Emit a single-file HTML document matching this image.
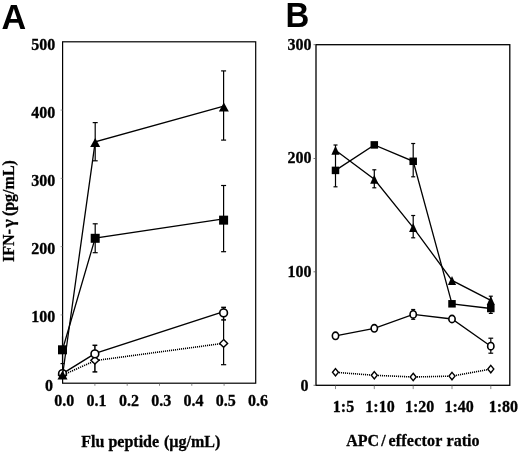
<!DOCTYPE html>
<html><head><meta charset="utf-8"><title>Figure</title>
<style>
html,body{margin:0;padding:0;background:#fff;}
body{width:520px;height:452px;overflow:hidden;font-family:"Liberation Serif",serif;}
svg{display:block;will-change:transform;opacity:0.999;}
</style></head>
<body>
<svg width="520" height="452" viewBox="0 0 520 452">
<rect x="0" y="0" width="520" height="452" fill="#fff"/>
<rect x="62.6" y="41.8" width="193.1" height="341.4" fill="none" stroke="#000" stroke-width="1.2"/>
<line x1="94.90" y1="383.2" x2="94.90" y2="385.8" stroke="#555" stroke-width="0.7"/>
<line x1="127.20" y1="383.2" x2="127.20" y2="385.8" stroke="#555" stroke-width="0.7"/>
<line x1="159.50" y1="383.2" x2="159.50" y2="385.8" stroke="#555" stroke-width="0.7"/>
<line x1="191.80" y1="383.2" x2="191.80" y2="385.8" stroke="#555" stroke-width="0.7"/>
<line x1="224.10" y1="383.2" x2="224.10" y2="385.8" stroke="#555" stroke-width="0.7"/>
<line x1="60.6" y1="314.92" x2="62.6" y2="314.92" stroke="#777" stroke-width="0.7"/>
<line x1="60.6" y1="246.64" x2="62.6" y2="246.64" stroke="#777" stroke-width="0.7"/>
<line x1="60.6" y1="178.36" x2="62.6" y2="178.36" stroke="#777" stroke-width="0.7"/>
<line x1="60.6" y1="110.08" x2="62.6" y2="110.08" stroke="#777" stroke-width="0.7"/>
<text x="55.2" y="49.5" font-family="'Liberation Serif', serif" font-weight="bold" font-size="16" text-anchor="end" stroke="#000" stroke-width="0.3">500</text>
<text x="55.2" y="117.7" font-family="'Liberation Serif', serif" font-weight="bold" font-size="16" text-anchor="end" stroke="#000" stroke-width="0.3">400</text>
<text x="55.2" y="185.9" font-family="'Liberation Serif', serif" font-weight="bold" font-size="16" text-anchor="end" stroke="#000" stroke-width="0.3">300</text>
<text x="55.2" y="254.1" font-family="'Liberation Serif', serif" font-weight="bold" font-size="16" text-anchor="end" stroke="#000" stroke-width="0.3">200</text>
<text x="55.2" y="322.3" font-family="'Liberation Serif', serif" font-weight="bold" font-size="16" text-anchor="end" stroke="#000" stroke-width="0.3">100</text>
<text x="52.9" y="390.5" font-family="'Liberation Serif', serif" font-weight="bold" font-size="16" text-anchor="end" stroke="#000" stroke-width="0.3">0</text>
<text x="54.3" y="406.1" font-family="'Liberation Serif', serif" font-weight="bold" font-size="16" text-anchor="start" stroke="#000" stroke-width="0.3">0.0</text>
<text x="86.6" y="406.1" font-family="'Liberation Serif', serif" font-weight="bold" font-size="16" text-anchor="start" stroke="#000" stroke-width="0.3">0.1</text>
<text x="118.9" y="406.1" font-family="'Liberation Serif', serif" font-weight="bold" font-size="16" text-anchor="start" stroke="#000" stroke-width="0.3">0.2</text>
<text x="151.2" y="406.1" font-family="'Liberation Serif', serif" font-weight="bold" font-size="16" text-anchor="start" stroke="#000" stroke-width="0.3">0.3</text>
<text x="183.5" y="406.1" font-family="'Liberation Serif', serif" font-weight="bold" font-size="16" text-anchor="start" stroke="#000" stroke-width="0.3">0.4</text>
<text x="215.8" y="406.1" font-family="'Liberation Serif', serif" font-weight="bold" font-size="16" text-anchor="start" stroke="#000" stroke-width="0.3">0.5</text>
<text x="248.1" y="406.1" font-family="'Liberation Serif', serif" font-weight="bold" font-size="16" text-anchor="start" stroke="#000" stroke-width="0.3">0.6</text>
<text x="81.3" y="446.5" font-family="'Liberation Serif', serif" font-weight="bold" font-size="16" text-anchor="start" stroke="#000" stroke-width="0.3">Flu peptide <tspan dx="0.8">(µg/mL)</tspan></text>
<g transform="translate(14.4,262.0) rotate(-90)"><text x="0" y="0" font-family="'Liberation Serif', serif" font-weight="bold" font-size="16" text-anchor="start" stroke="#000" stroke-width="0.3">IFN-</text><text x="0" y="0" font-family="'Liberation Serif', serif" font-weight="bold" font-size="16" text-anchor="start" stroke="#000" stroke-width="0.3" transform="translate(34.6,0) scale(1.1,1)">γ</text><text x="45.9" y="0" font-family="'Liberation Serif', serif" font-weight="bold" font-size="16" text-anchor="start" stroke="#000" stroke-width="0.3" xml:space="preserve">(pg/mL)</text></g>
<text x="1.5" y="28.6" font-family="'Liberation Sans', serif" font-weight="bold" font-size="34.2" text-anchor="start" stroke="#000" stroke-width="0">A</text>
<line x1="95.20" y1="122.60" x2="95.20" y2="160.80" stroke="#000" stroke-width="1.2"/><line x1="92.70" y1="122.60" x2="97.70" y2="122.60" stroke="#000" stroke-width="1.2"/><line x1="92.70" y1="160.80" x2="97.70" y2="160.80" stroke="#000" stroke-width="1.2"/>
<line x1="223.60" y1="70.90" x2="223.60" y2="140.10" stroke="#000" stroke-width="1.2"/><line x1="221.10" y1="70.90" x2="226.10" y2="70.90" stroke="#000" stroke-width="1.2"/><line x1="221.10" y1="140.10" x2="226.10" y2="140.10" stroke="#000" stroke-width="1.2"/>
<line x1="95.20" y1="223.80" x2="95.20" y2="252.70" stroke="#000" stroke-width="1.2"/><line x1="92.70" y1="223.80" x2="97.70" y2="223.80" stroke="#000" stroke-width="1.2"/><line x1="92.70" y1="252.70" x2="97.70" y2="252.70" stroke="#000" stroke-width="1.2"/>
<line x1="223.60" y1="185.50" x2="223.60" y2="251.70" stroke="#000" stroke-width="1.2"/><line x1="221.10" y1="185.50" x2="226.10" y2="185.50" stroke="#000" stroke-width="1.2"/><line x1="221.10" y1="251.70" x2="226.10" y2="251.70" stroke="#000" stroke-width="1.2"/>
<line x1="62.50" y1="336.40" x2="62.50" y2="363.60" stroke="#000" stroke-width="1.2"/><line x1="60.50" y1="363.60" x2="64.50" y2="363.60" stroke="#000" stroke-width="1.2"/>
<line x1="94.90" y1="345.30" x2="94.90" y2="371.90" stroke="#000" stroke-width="1.5"/><line x1="92.50" y1="345.30" x2="97.30" y2="345.30" stroke="#000" stroke-width="1.5"/><line x1="92.50" y1="371.90" x2="97.30" y2="371.90" stroke="#000" stroke-width="1.5"/>
<line x1="223.60" y1="307.40" x2="223.60" y2="319.90" stroke="#000" stroke-width="1.5"/><line x1="221.20" y1="307.40" x2="226.00" y2="307.40" stroke="#000" stroke-width="1.5"/><line x1="221.20" y1="319.90" x2="226.00" y2="319.90" stroke="#000" stroke-width="1.5"/>
<line x1="223.60" y1="319.90" x2="223.60" y2="364.70" stroke="#000" stroke-width="1.2"/><line x1="221.00" y1="364.70" x2="226.20" y2="364.70" stroke="#000" stroke-width="1.2"/>
<line x1="62.50" y1="375.20" x2="95.20" y2="360.60" stroke="#000" stroke-width="1.6" stroke-dasharray="1.205 0.986" stroke-dashoffset="0.548"/><line x1="95.20" y1="360.60" x2="223.60" y2="343.30" stroke="#000" stroke-width="1.6" stroke-dasharray="1.110 0.908" stroke-dashoffset="0.202"/>
<polyline points="62.50,373.60 95.20,353.40 223.60,311.60" fill="none" stroke="#000" stroke-width="1.5"/>
<polygon points="62.50,371.20 66.50,375.00 62.50,378.80 58.50,375.00" fill="#fff" stroke="#000" stroke-width="1.4" stroke-linejoin="miter"/>
<polygon points="94.90,356.50 98.90,360.30 94.90,364.10 90.90,360.30" fill="#fff" stroke="#000" stroke-width="1.4" stroke-linejoin="miter"/>
<polygon points="223.60,339.60 227.60,343.40 223.60,347.20 219.60,343.40" fill="#fff" stroke="#000" stroke-width="1.4" stroke-linejoin="miter"/>
<ellipse cx="62.50" cy="373.60" rx="3.85" ry="3.85" fill="#fff" stroke="#000" stroke-width="1.6"/>
<ellipse cx="94.90" cy="353.90" rx="3.85" ry="3.85" fill="#fff" stroke="#000" stroke-width="1.6"/>
<ellipse cx="223.60" cy="312.90" rx="3.85" ry="3.85" fill="#fff" stroke="#000" stroke-width="1.6"/>
<polyline points="62.50,375.50 95.20,141.80 223.80,106.20" fill="none" stroke="#000" stroke-width="1.3"/>
<polyline points="62.50,349.80 95.20,238.00 223.60,218.80" fill="none" stroke="#000" stroke-width="1.3"/>
<polygon points="62.50,370.50 67.50,379.50 57.50,379.50" fill="#000"/>
<polygon points="95.20,137.90 100.20,146.90 90.20,146.90" fill="#000"/>
<polygon points="223.85,102.50 228.85,111.50 218.85,111.50" fill="#000"/>
<rect x="58.00" y="345.30" width="9.0" height="9.0" fill="#000"/>
<rect x="90.70" y="233.80" width="9.0" height="9.0" fill="#000"/>
<rect x="219.10" y="215.65" width="9.0" height="9.0" fill="#000"/>
<rect x="316.0" y="44.7" width="193.8" height="340.6" fill="none" stroke="#000" stroke-width="1.3"/>
<line x1="335.5" y1="385.3" x2="335.5" y2="389.1" stroke="#555" stroke-width="0.7"/>
<line x1="374.3" y1="385.3" x2="374.3" y2="389.1" stroke="#555" stroke-width="0.7"/>
<line x1="413.2" y1="385.3" x2="413.2" y2="389.1" stroke="#555" stroke-width="0.7"/>
<line x1="452.0" y1="385.3" x2="452.0" y2="389.1" stroke="#555" stroke-width="0.7"/>
<line x1="490.8" y1="385.3" x2="490.8" y2="389.1" stroke="#555" stroke-width="0.7"/>
<line x1="313.5" y1="158.5" x2="316.0" y2="158.5" stroke="#555" stroke-width="0.8"/>
<line x1="313.5" y1="271.8" x2="316.0" y2="271.8" stroke="#555" stroke-width="0.8"/>
<line x1="313.5" y1="385.3" x2="316.0" y2="385.3" stroke="#555" stroke-width="0.8"/>
<line x1="313.5" y1="44.7" x2="316.0" y2="44.7" stroke="#555" stroke-width="0.8"/>
<text x="311.6" y="49.7" font-family="'Liberation Serif', serif" font-weight="bold" font-size="16" text-anchor="end" stroke="#000" stroke-width="0.3">300</text>
<text x="311.6" y="163.35" font-family="'Liberation Serif', serif" font-weight="bold" font-size="16" text-anchor="end" stroke="#000" stroke-width="0.3">200</text>
<text x="311.6" y="277.0" font-family="'Liberation Serif', serif" font-weight="bold" font-size="16" text-anchor="end" stroke="#000" stroke-width="0.3">100</text>
<text x="308.4" y="390.65" font-family="'Liberation Serif', serif" font-weight="bold" font-size="16" text-anchor="end" stroke="#000" stroke-width="0.3">0</text>
<text x="332.8" y="412.2" font-family="'Liberation Serif', serif" font-weight="bold" font-size="16" text-anchor="start" stroke="#000" stroke-width="0.3">1:5</text>
<text x="365.3" y="412.2" font-family="'Liberation Serif', serif" font-weight="bold" font-size="16" text-anchor="start" stroke="#000" stroke-width="0.3">1:10</text>
<text x="404.9" y="412.2" font-family="'Liberation Serif', serif" font-weight="bold" font-size="16" text-anchor="start" stroke="#000" stroke-width="0.3">1:20</text>
<text x="444.5" y="412.2" font-family="'Liberation Serif', serif" font-weight="bold" font-size="16" text-anchor="start" stroke="#000" stroke-width="0.3">1:40</text>
<text x="488.7" y="412.2" font-family="'Liberation Serif', serif" font-weight="bold" font-size="16" text-anchor="start" stroke="#000" stroke-width="0.3">1:80</text>
<text x="346.2" y="446.4" font-family="'Liberation Serif', serif" font-weight="bold" font-size="16" text-anchor="start" stroke="#000" stroke-width="0.3">APC<tspan dx="2.2">/</tspan><tspan dx="2.7" letter-spacing="0.22">effector</tspan><tspan dx="4.0">ratio</tspan></text>
<text x="0" y="0" font-family="'Liberation Sans', serif" font-weight="bold" font-size="34.5" text-anchor="start" stroke="#000" stroke-width="0" transform="translate(285.6,27.4) scale(0.955,1)">B</text>
<line x1="335.50" y1="145.00" x2="335.50" y2="186.80" stroke="#000" stroke-width="1.2"/><line x1="333.50" y1="145.00" x2="337.50" y2="145.00" stroke="#000" stroke-width="1.2"/><line x1="333.50" y1="186.80" x2="337.50" y2="186.80" stroke="#000" stroke-width="1.2"/>
<line x1="374.30" y1="169.80" x2="374.30" y2="187.80" stroke="#000" stroke-width="1.2"/><line x1="372.30" y1="169.80" x2="376.30" y2="169.80" stroke="#000" stroke-width="1.2"/><line x1="372.30" y1="187.80" x2="376.30" y2="187.80" stroke="#000" stroke-width="1.2"/>
<line x1="413.20" y1="143.50" x2="413.20" y2="176.80" stroke="#000" stroke-width="1.2"/><line x1="411.20" y1="143.50" x2="415.20" y2="143.50" stroke="#000" stroke-width="1.2"/><line x1="411.20" y1="176.80" x2="415.20" y2="176.80" stroke="#000" stroke-width="1.2"/>
<line x1="413.20" y1="215.50" x2="413.20" y2="237.80" stroke="#000" stroke-width="1.2"/><line x1="411.20" y1="215.50" x2="415.20" y2="215.50" stroke="#000" stroke-width="1.2"/><line x1="411.20" y1="237.80" x2="415.20" y2="237.80" stroke="#000" stroke-width="1.2"/>
<line x1="413.20" y1="309.50" x2="413.20" y2="319.30" stroke="#000" stroke-width="1.2"/><line x1="411.20" y1="309.50" x2="415.20" y2="309.50" stroke="#000" stroke-width="1.2"/><line x1="411.20" y1="319.30" x2="415.20" y2="319.30" stroke="#000" stroke-width="1.2"/>
<line x1="490.80" y1="338.20" x2="490.80" y2="353.20" stroke="#000" stroke-width="1.2"/><line x1="488.40" y1="338.20" x2="493.20" y2="338.20" stroke="#000" stroke-width="1.2"/><line x1="488.40" y1="353.20" x2="493.20" y2="353.20" stroke="#000" stroke-width="1.2"/>
<line x1="490.80" y1="296.20" x2="490.80" y2="313.40" stroke="#000" stroke-width="1.2"/><line x1="488.80" y1="296.20" x2="492.80" y2="296.20" stroke="#000" stroke-width="1.2"/><line x1="488.80" y1="313.40" x2="492.80" y2="313.40" stroke="#000" stroke-width="1.2"/>
<line x1="335.50" y1="372.30" x2="374.30" y2="375.30" stroke="#000" stroke-width="1.6" stroke-dasharray="1.103 0.903" stroke-dashoffset="0.501"/><line x1="374.30" y1="375.30" x2="413.20" y2="377.00" stroke="#000" stroke-width="1.6" stroke-dasharray="1.101 0.901" stroke-dashoffset="0.300"/><line x1="413.20" y1="377.00" x2="452.00" y2="376.10" stroke="#000" stroke-width="1.6" stroke-dasharray="1.100 0.900" stroke-dashoffset="0.200"/><line x1="452.00" y1="376.10" x2="490.80" y2="369.10" stroke="#000" stroke-width="1.6" stroke-dasharray="1.118 0.915" stroke-dashoffset="0.000"/>
<polyline points="335.50,150.30 374.30,179.30 413.20,227.60 452.00,280.40 490.80,300.40" fill="none" stroke="#000" stroke-width="1.3"/>
<polyline points="335.50,170.40 374.30,144.90 413.20,161.30 452.00,303.80 490.80,308.50" fill="none" stroke="#000" stroke-width="1.3"/>
<polyline points="335.50,335.80 374.30,328.30 413.20,314.40 452.00,319.00 490.80,346.20" fill="none" stroke="#000" stroke-width="1.3"/>
<polygon points="335.50,368.60 338.50,372.30 335.50,376.00 332.50,372.30" fill="#fff" stroke="#000" stroke-width="1.4" stroke-linejoin="miter"/>
<polygon points="374.30,371.60 377.30,375.30 374.30,379.00 371.30,375.30" fill="#fff" stroke="#000" stroke-width="1.4" stroke-linejoin="miter"/>
<polygon points="413.20,373.30 416.20,377.00 413.20,380.70 410.20,377.00" fill="#fff" stroke="#000" stroke-width="1.4" stroke-linejoin="miter"/>
<polygon points="452.00,372.40 455.00,376.10 452.00,379.80 449.00,376.10" fill="#fff" stroke="#000" stroke-width="1.4" stroke-linejoin="miter"/>
<polygon points="490.80,365.40 493.80,369.10 490.80,372.80 487.80,369.10" fill="#fff" stroke="#000" stroke-width="1.4" stroke-linejoin="miter"/>
<polygon points="335.50,145.80 339.60,154.80 331.40,154.80" fill="#000"/>
<polygon points="374.30,174.80 378.40,183.80 370.20,183.80" fill="#000"/>
<polygon points="413.20,223.10 417.30,232.10 409.10,232.10" fill="#000"/>
<polygon points="452.00,275.90 456.10,284.90 447.90,284.90" fill="#000"/>
<polygon points="490.80,295.90 494.90,304.90 486.70,304.90" fill="#000"/>
<rect x="331.75" y="166.65" width="7.5" height="7.5" fill="#000"/>
<rect x="370.55" y="141.15" width="7.5" height="7.5" fill="#000"/>
<rect x="409.45" y="157.55" width="7.5" height="7.5" fill="#000"/>
<rect x="448.25" y="300.05" width="7.5" height="7.5" fill="#000"/>
<rect x="487.05" y="304.75" width="7.5" height="7.5" fill="#000"/>
<ellipse cx="335.50" cy="335.80" rx="3.15" ry="3.65" fill="#fff" stroke="#000" stroke-width="1.6"/>
<ellipse cx="374.30" cy="328.30" rx="3.15" ry="3.65" fill="#fff" stroke="#000" stroke-width="1.6"/>
<ellipse cx="413.20" cy="314.40" rx="3.15" ry="3.65" fill="#fff" stroke="#000" stroke-width="1.6"/>
<ellipse cx="452.00" cy="319.00" rx="3.15" ry="3.65" fill="#fff" stroke="#000" stroke-width="1.6"/>
<ellipse cx="490.80" cy="346.20" rx="3.15" ry="3.65" fill="#fff" stroke="#000" stroke-width="1.6"/>
</svg>
</body></html>
